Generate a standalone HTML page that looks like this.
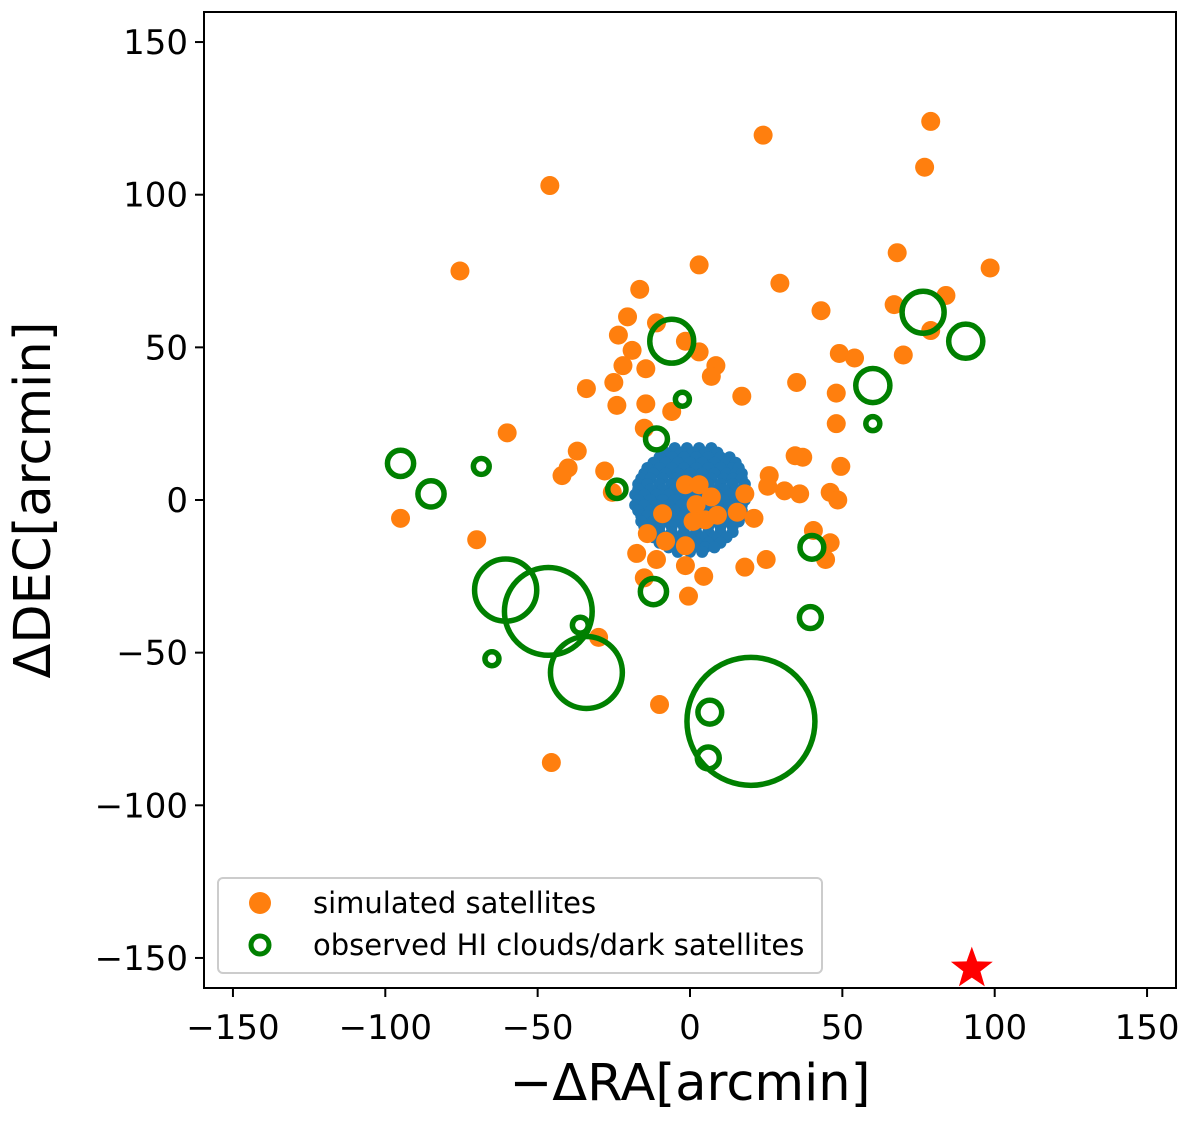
<!DOCTYPE html>
<html><head><meta charset="utf-8"><style>
body{margin:0;background:#fff}
svg text{font-family:"DejaVu Sans","Liberation Sans",sans-serif;fill:#000}
</style></head><body>
<svg id="chart" width="1200" height="1116" xmlns="http://www.w3.org/2000/svg">
<g id="blue"></g>
<g id="orange"></g>
<g id="green"></g>
<g id="star"></g>
<rect x="204" y="12" width="972" height="976" fill="none" stroke="#000" stroke-width="2"/>
<g id="xt"></g>
<g id="yt"></g>
<text x="690" y="1100" font-size="51" text-anchor="middle">−ΔRA[arcmin]</text>
<text transform="translate(50,500) rotate(-90)" font-size="51" text-anchor="middle">ΔDEC[arcmin]</text>
<g>
<rect x="218" y="878" width="604" height="95" rx="5" fill="#fff" fill-opacity="0.8" stroke="#ccc" stroke-width="2"/>
<circle cx="260" cy="903" r="11" fill="#ff7f0e"/>
<text x="313" y="913" font-size="29">simulated satellites</text>
<circle cx="260" cy="945" r="9" fill="none" stroke="#008000" stroke-width="5"/>
<text x="313" y="955" font-size="29">observed HI clouds/dark satellites</text>
</g>
</svg>
<script>
const xTicks=[-150,-100,-50,0,50,100,150];
const yTicks=[-150,-100,-50,0,50,100,150];
const orangeX=[24,79,77,-46,-75.5,3,68,98.5,29.5,-16.5,43,67,84,-20.5,-11,-23.5,-19,-1.5,3,8.5,7,49,54,70,79,-14.5,-22,-34,-25,35,48,-24,-14.5,-6,17,48,-60,-15,-37,34.5,37,49.5,-28,-40,-42,26,31,25.5,36,46,48.5,-25.5,-95,-70,-14,-8,-1.5,40.5,46,44.5,-17.5,-11,25,18,-1.5,4.5,-15,-0.5,-30,-10,-45.5,-1.5,3,7,2,5,1,-9,18,15.5,21,9];
const orangeY=[119.5,124,109,103,75,77,81,76,71,69,62,64,67,60,58,54,49,52,48.5,44,40.5,48,46.5,47.5,55.5,43,44,36.5,38.5,38.5,35,31,31.5,29,34,25,22,23.5,16,14.5,14,11,9.5,10.5,8,8,3,4.5,2,2.5,0,2.5,-6,-13,-11,-13.5,-15,-10,-14,-19.5,-17.5,-19.5,-19.5,-22,-21.5,-25,-25.5,-31.5,-45,-67,-86,5,5,1,-1.5,-6.5,-7,-4.5,2,-4,-6,-5];
const greenX=[-6,-2.5,-11,76.5,90.5,60,60,-95,-85,-68.5,-24,-60.5,-46.5,-34,-36,-65,-12,40,39.5,20,6.5,6];
const greenY=[52,33,20,61.5,52,37.5,25,12,2,11,3.5,-29.5,-36.5,-56.5,-41,-52,-30,-15.5,-38.5,-72.5,-69.5,-84.5];
const greenR=[7.2,2.3,3.6,6.9,5.6,5.6,2.3,4.3,4.3,2.6,3,10.2,14.4,11.8,2.6,2.3,4.3,3.9,3.6,21,3.9,3.6];
const blobRows=[[17,[-5,-1,3,7]],[15.5,[-8,-3,1,5,9]],[14,[-10,-6,-2,2,6,10,13]],[12.2,[-12,-8,-4,0,4,8,12,15]],[10.5,[-14,-10,-6,-2,2,6,10,14,16]],[8.7,[-15,-12,-8,-4,0,4,8,12,15,17]],[7,[-16,-13,-9,-5,-1,3,7,11,14,17]],[5.2,[-17,-14,-10,-6,-2,2,6,10,14,18]],[3.5,[-17,-13,-9,-5,-1,3,7,11,15,18]],[1.7,[-18,-15,-11,-7,-3,1,5,9,13,17]],[0,[-17,-13,-9,-5,-1,3,7,11,15,18]],[-1.7,[-18,-15,-11,-7,-3,1,5,9,13,17]],[-3.5,[-17,-13,-9,-5,-1,3,7,11,15,17]],[-5.2,[-16,-14,-10,-6,-2,2,6,10,14,17]],[-7,[-16,-12,-8,-4,0,4,8,12,16]],[-8.7,[-15,-10,-6,-2,2,6,10,14]],[-10.5,[-14,-10,-6,-2,2,6,10,14]],[-12.2,[-12,-8,-4,0,4,8,12]],[-14,[-10,-6,-2,2,6,10]],[-15.5,[-7,-3,1,5,8]],[-17,[-4,0,4]]];
const starX=[92.5], starY=[-153.5];
const NS="http://www.w3.org/2000/svg";
const X0=690,KX=3.047,Y0=500,KY=3.053;
const sx=v=>X0+v*KX, sy=v=>Y0-v*KY;
function mk(t,p,a){const e=document.createElementNS(NS,t);for(const k in a)e.setAttribute(k,a[k]);p.appendChild(e);return e;}
const xt=document.getElementById('xt'),yt=document.getElementById('yt');
xTicks.forEach(v=>{
 const l=mk('line',xt,{x1:sx(v),x2:sx(v),y1:988,y2:997,stroke:'#000','stroke-width':2});
 
 
 const t=mk('text',xt,{x:sx(v),y:1039,'font-size':34,'text-anchor':'middle'});
 t.textContent=v<0?'−'+(-v):v;
 
 
});
yTicks.forEach(v=>{
 const l=mk('line',yt,{x1:195,x2:204,y1:sy(v),y2:sy(v),stroke:'#000','stroke-width':2});
 
 
 const t=mk('text',yt,{x:188,y:sy(v)+12,'font-size':34,'text-anchor':'end'});
 t.textContent=v<0?'−'+(-v):v;
 
 
});
const bg=document.getElementById('blue');
blobRows.forEach(r=>r[1].forEach(x=>{
 const c=mk('circle',bg,{cx:sx(x),cy:sy(r[0]),r:6,fill:'#1f77b4'});
 
 
}));
const og=document.getElementById('orange');
orangeX.forEach((x,i)=>{
 const c=mk('circle',og,{cx:sx(x),cy:sy(orangeY[i]),r:9.5,fill:'#ff7f0e'});
 
 
});
const gg=document.getElementById('green');
greenX.forEach((x,i)=>{
 const c=mk('circle',gg,{cx:sx(x),cy:sy(greenY[i]),r:greenR[i]*KX,fill:'none',stroke:'#008000','stroke-width':5.5});
 
 
});
const sg=document.getElementById('star');
starX.forEach((x,i)=>{
 const cx=sx(x),cy=sy(starY[i]),R=22,r=9;let p=[];
 for(let k=0;k<10;k++){const a=-Math.PI/2+k*Math.PI/5,rr=k%2?r:R;p.push((cx+rr*Math.cos(a)).toFixed(1)+','+(cy+rr*Math.sin(a)).toFixed(1));}
 const s=mk('polygon',sg,{points:p.join(' '),fill:'#ff0000'});
 
 
});
</script>
</body></html>
